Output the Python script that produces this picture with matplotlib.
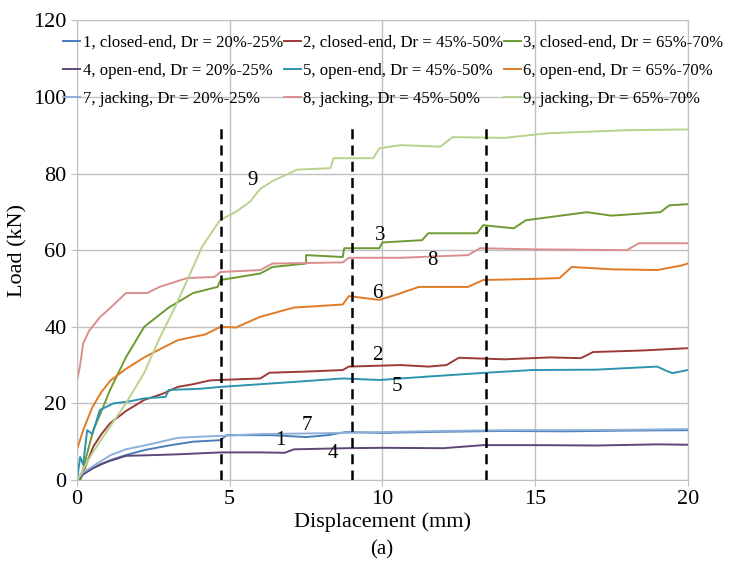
import matplotlib
matplotlib.use("Agg")
import matplotlib.pyplot as plt

# displacement (mm) / load (kN)
x1 = [0, 0.2, 0.5, 1.1, 1.6, 2.2, 3.0, 3.8, 4.7, 4.9, 6.4, 7.5, 8.2, 8.8, 10.0, 12.0, 14.0, 16.0, 18.0, 20.0]
y1 = [0, 1.5, 3.0, 5.2, 6.5, 7.8, 9.0, 10.0, 10.4, 11.7, 11.7, 11.2, 11.7, 12.5, 12.3, 12.6, 12.8, 12.7, 12.9, 13.0]

x2 = [0.1, 0.3, 0.53, 0.8, 1.08, 1.6, 2.2, 2.8, 3.3, 3.8, 4.35, 5.0, 6.0, 6.3, 7.5, 8.7, 8.9, 10.6, 11.5, 12.1, 12.5, 14.0, 15.5, 16.5, 16.9, 18.5, 20.0]
y2 = [0, 4.0, 8.7, 12.0, 14.8, 18.0, 20.9, 22.5, 24.3, 25.0, 26.0, 26.2, 26.5, 28.0, 28.3, 28.7, 29.6, 30.0, 29.6, 30.0, 31.9, 31.5, 32.0, 31.8, 33.4, 33.8, 34.4]

x3 = [0.1, 0.3, 0.53, 0.8, 1.08, 1.6, 2.2, 2.6, 3.0, 3.8, 4.6, 4.7, 6.0, 6.4, 7.5, 7.5, 8.7, 8.75, 9.9, 10.0, 11.3, 11.5, 13.1, 13.3, 14.3, 14.7, 16.7, 17.5, 19.1, 19.4, 20.0]
y3 = [0, 6.0, 13.0, 18.0, 23.5, 32.0, 40.0, 42.5, 45.0, 48.8, 50.4, 52.2, 53.9, 55.6, 56.5, 58.7, 58.2, 60.5, 60.5, 62.0, 62.6, 64.4, 64.4, 66.5, 65.7, 67.8, 69.9, 69.0, 69.9, 71.7, 72.0]

x4 = [0, 0.2, 0.5, 0.8, 1.08, 1.6, 2.5, 3.3, 4.7, 6.0, 6.8, 7.1, 8.8, 10.0, 12.0, 13.3, 15.0, 17.0, 19.0, 20.0]
y4 = [0, 1.5, 3.0, 4.2, 5.0, 6.3, 6.5, 6.7, 7.2, 7.2, 7.1, 8.0, 8.3, 8.4, 8.3, 9.1, 9.1, 9.0, 9.3, 9.2]

x5 = [0, 0.1, 0.2, 0.33, 0.5, 0.75, 1.2, 1.7, 2.2, 2.9, 3.0, 4.0, 4.7, 6.0, 7.1, 8.7, 9.9, 11.5, 13.2, 14.9, 17.0, 19.0, 19.3, 19.5, 20.0]
y5 = [0, 6.0, 4.0, 13.0, 12.0, 18.3, 20.0, 20.5, 21.3, 21.7, 23.5, 23.8, 24.3, 25.0, 25.6, 26.5, 26.1, 27.0, 27.9, 28.7, 28.8, 29.6, 28.5, 27.9, 28.7]

x6 = [0, 0.2, 0.5, 0.8, 1.1, 1.6, 2.2, 2.8, 3.3, 4.2, 4.7, 5.2, 6.0, 7.1, 8.7, 8.9, 9.9, 10.5, 11.2, 12.8, 13.3, 15.0, 15.8, 16.2, 17.5, 19.0, 19.8, 20.0]
y6 = [8.0, 13.0, 19.0, 23.0, 26.0, 29.0, 32.0, 34.5, 36.5, 38.0, 40.0, 39.8, 42.6, 45.0, 45.8, 48.0, 47.0, 48.5, 50.4, 50.4, 52.2, 52.5, 52.7, 55.6, 55.0, 54.8, 56.0, 56.5]

x7 = [0, 0.2, 0.5, 1.1, 1.6, 2.2, 3.3, 4.0, 4.7, 6.0, 8.0, 10.0, 12.0, 14.0, 16.0, 18.0, 20.0]
y7 = [0, 2.0, 3.5, 6.5, 8.0, 9.0, 11.0, 11.3, 11.5, 12.0, 12.2, 12.5, 12.8, 13.0, 13.0, 13.1, 13.3]

x8 = [0, 0.1, 0.2, 0.4, 0.75, 1.1, 1.6, 2.3, 2.7, 3.6, 4.5, 4.7, 6.0, 6.4, 8.7, 8.9, 10.6, 12.8, 13.2, 15.0, 18.0, 18.4, 20.0]
y8 = [26.0, 30.0, 35.7, 39.0, 42.5, 45.0, 48.8, 48.8, 50.4, 52.7, 53.0, 54.3, 54.8, 56.5, 56.8, 58.0, 58.0, 58.7, 60.5, 60.2, 60.0, 61.8, 61.8]

x9 = [0, 0.5, 1.0, 1.6, 2.2, 2.7, 3.2, 3.6, 4.1, 4.68, 5.2, 5.66, 6.0, 6.4, 7.2, 8.3, 8.4, 9.7, 9.9, 10.6, 11.9, 12.3, 14.0, 15.4, 18.0, 20.0]
y9 = [0, 7.0, 13.0, 20.0, 28.0, 37.0, 45.0, 52.0, 61.0, 67.8, 70.0, 72.6, 76.0, 78.0, 81.0, 81.4, 84.0, 84.0, 86.6, 87.4, 87.0, 89.5, 89.3, 90.5, 91.3, 91.5]

series_x = [x1, x2, x3, x4, x5, x6, x7, x8, x9]
series_y = [y1, y2, y3, y4, y5, y6, y7, y8, y9]
labels = [
    "1, closed-end, Dr = 20%-25%", "2, closed-end, Dr = 45%-50%", "3, closed-end, Dr = 65%-70%",
    "4, open-end, Dr = 20%-25%", "5, open-end, Dr = 45%-50%", "6, open-end, Dr = 65%-70%",
    "7, jacking, Dr = 20%-25%", "8, jacking, Dr = 45%-50%", "9, jacking, Dr = 65%-70%",
]
colors = ["#4A7EBB", "#9B3B38", "#6E9A32", "#5E4778", "#2E93AE", "#E07B25",
          "#8DB0D8", "#D98F8D", "#B7D38C"]

dashed_x = [4.7, 9.0, 13.4]
dashed_top = 92

tags = ["1", "7", "4", "2", "5", "6", "8", "3", "9"]
tag_x = [6.65, 7.53, 8.38, 9.82, 10.47, 9.82, 11.65, 9.92, 5.76]
tag_y = [10.4, 14.3, 7.0, 32.6, 24.3, 48.8, 57.4, 63.9, 78.3]

plt.rcParams["font.family"] = ["Liberation Serif", "DejaVu Serif"]

fig = plt.figure(figsize=(7.34, 5.79), dpi=100)
ax = fig.add_axes([0.105, 0.171, 0.832, 0.794])

lines = []
for xs, ys, c, lab in zip(series_x, series_y, colors, labels):
    ln, = ax.plot(xs, ys, color=c, linewidth=1.4, label=lab)
    lines.append(ln)

for xv in dashed_x:
    ax.plot([xv, xv], [0, dashed_top], color="black", linewidth=1.8,
            linestyle=(0, (4, 2.5)))

for t, tx, ty in zip(tags, tag_x, tag_y):
    ax.text(tx, ty, t, fontsize=15, ha="center", va="center", color="black")

ax.set_xlim(0, 20)
ax.set_ylim(0, 120)
ax.set_xticks([0, 5, 10, 15, 20])
ax.set_yticks([0, 20, 40, 60, 80, 100, 120])
ax.grid(True, color="#c0c0c0", linewidth=1)
ax.set_axisbelow(True)
for sp in ax.spines.values():
    sp.set_color("#c0c0c0")
ax.tick_params(axis="both", labelsize=16, color="#c0c0c0", length=4)
ax.set_xlabel("Displacement (mm)", fontsize=16, labelpad=2)
ax.set_ylabel("Load (kN)", fontsize=16, labelpad=4)

# legend fills column-wise, so reorder to read 1-2-3 across rows
order = [0, 3, 6, 1, 4, 7, 2, 5, 8]
fig.legend([lines[i] for i in order], [labels[i] for i in order], ncol=3,
           loc="upper left", bbox_to_anchor=(0.075, 0.955),
           frameon=False, fontsize=12.1, handlelength=1.0, handletextpad=0.15,
           columnspacing=0.05, labelspacing=0.72, borderpad=0)

fig.text(0.52, 0.05, "(a)", fontsize=15, ha="center", va="center")

fig.savefig("out.png", dpi=100)
